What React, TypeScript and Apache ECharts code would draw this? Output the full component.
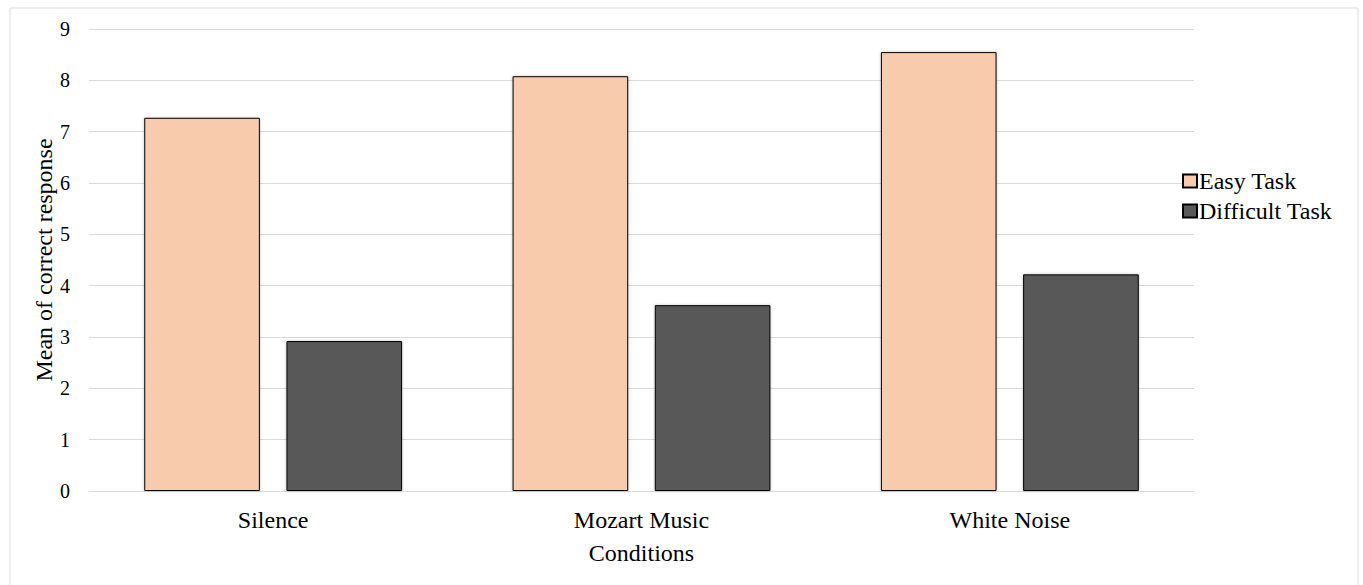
import React, { useEffect, useRef } from "react";
import * as echarts from "echarts";

const categories = ["Silence", "Mozart Music", "White Noise"];
const easyTask = [7.27, 8.08, 8.55];
const difficultTask = [2.92, 3.62, 4.22];
const seriesNames = ["Easy Task", "Difficult Task"];

const FONT = "Liberation Serif";

export default function App() {
  const ref = useRef<HTMLDivElement>(null);
  useEffect(() => {
    if (!ref.current) return;
    const chart = echarts.init(ref.current, null, { renderer: "svg" });
    chart.setOption({
      animation: false,
      backgroundColor: "#ffffff",
      textStyle: { fontFamily: FONT, color: "#000" },
      graphic: [
        {
          type: "rect",
          shape: { x: 10, y: 8, width: 1348, height: 590 },
          style: { fill: "none", stroke: "#D9D9D9", lineWidth: 1 },
          silent: true,
        },
      ],
      grid: { left: 89, right: 169, top: 29, bottom: 94, containLabel: false },
      legend: {
        orient: "vertical",
        left: 1177,
        top: 164,
        itemWidth: 14,
        itemHeight: 13,
        itemGap: 6,
        icon: "rect",
        data: seriesNames,
        textStyle: { fontFamily: FONT, fontSize: 24, color: "#000", padding: [0, 0, 0, -3] },
      },
      xAxis: {
        type: "category",
        data: categories,
        name: "Conditions",
        nameLocation: "middle",
        nameGap: 50,
        nameMoveOverlap: false,
        nameTextStyle: { fontFamily: FONT, fontSize: 24, color: "#000" },
        axisLine: { show: true, lineStyle: { color: "#D9D9D9", width: 1 } },
        axisTick: { show: false },
        axisLabel: { fontFamily: FONT, fontSize: 24, color: "#000", margin: 17 },
      },
      yAxis: {
        type: "value",
        min: 0,
        max: 9,
        interval: 1,
        name: "Mean of correct response",
        nameLocation: "middle",
        nameGap: 33,
        nameMoveOverlap: false,
        nameTextStyle: { fontFamily: FONT, fontSize: 24, color: "#000" },
        axisLine: { show: false },
        axisTick: { show: false },
        axisLabel: { fontFamily: FONT, fontSize: 20, color: "#000", margin: 19 },
        splitLine: { lineStyle: { color: "#D9D9D9", width: 1 } },
      },
      series: [
        {
          name: seriesNames[0],
          type: "bar",
          data: easyTask,
          barCategoryGap: "30%",
          barGap: "23%",
          itemStyle: {
            color: "#F8CBAD",
            borderColor: "#000000",
            borderWidth: 1,
            shadowBlur: 3,
            shadowColor: "rgba(0,0,0,0.25)",
          },
        },
        {
          name: seriesNames[1],
          type: "bar",
          data: difficultTask,
          barCategoryGap: "30%",
          barGap: "23%",
          itemStyle: {
            color: "#595959",
            borderColor: "#000000",
            borderWidth: 1,
            shadowBlur: 3,
            shadowColor: "rgba(0,0,0,0.25)",
          },
        },
      ],
    });
    return () => chart.dispose();
  }, []);
  return (
    <div
      ref={ref}
      style={{ position: "fixed", left: 0, top: 0, width: 1363, height: 585 }}
    />
  );
}
